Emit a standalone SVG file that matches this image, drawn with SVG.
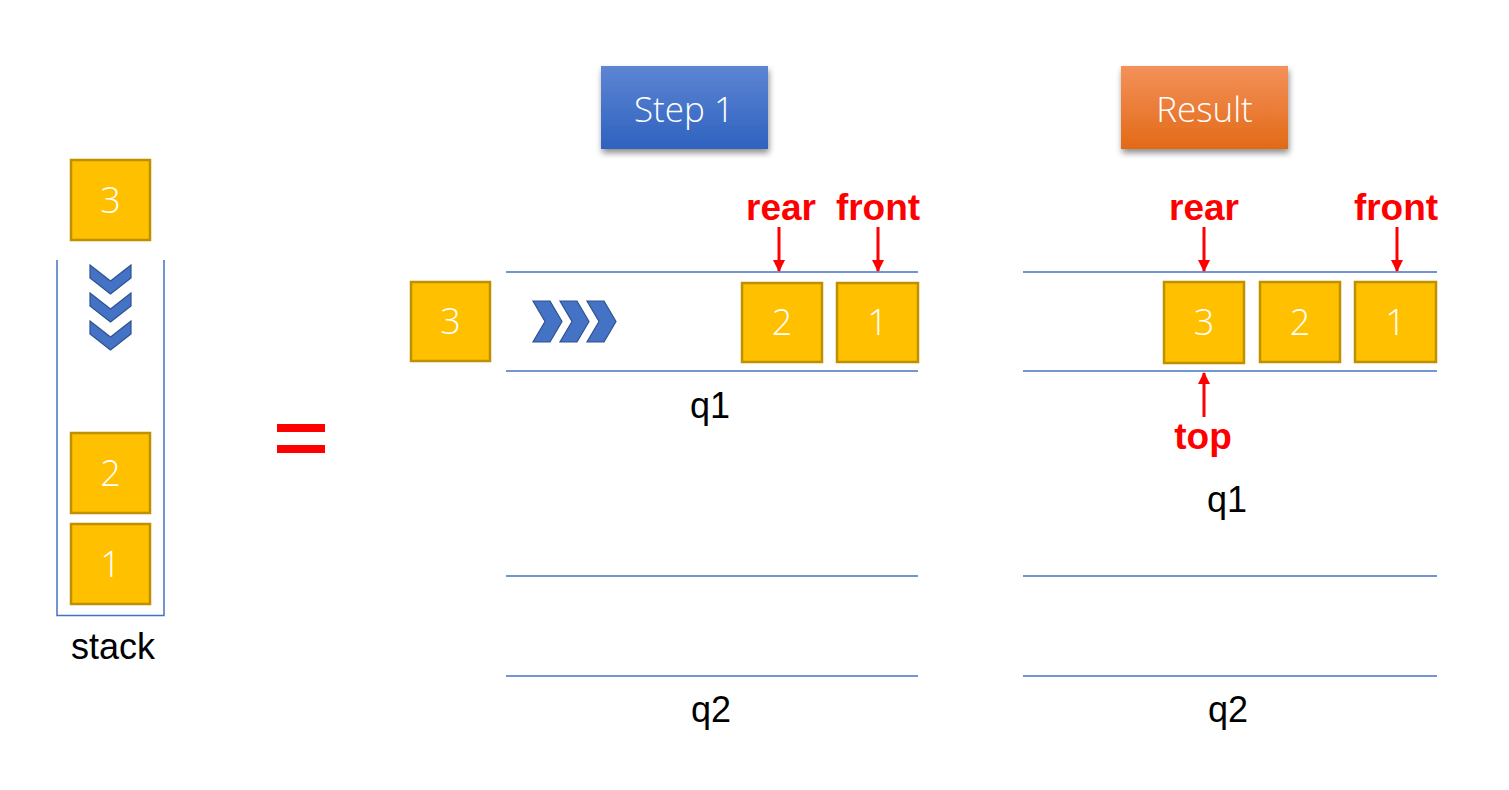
<svg xmlns="http://www.w3.org/2000/svg" width="1509" height="790" viewBox="0 0 1509 790">
<style>
.box{fill:#FFC000;stroke:#BF9000;stroke-width:2.5}
.num{font-family:"Open Sans","Noto Sans",sans-serif;font-weight:300;font-size:36px;fill:#FFFFFF;text-anchor:middle}
.btn{font-family:"Open Sans","Noto Sans",sans-serif;font-weight:300;font-size:35px;fill:#FFFFFF;text-anchor:middle}
.lbl{font-family:"Liberation Sans",Arial,sans-serif;font-size:36px;fill:#000000;text-anchor:middle}
.red{font-family:"Liberation Sans",Arial,sans-serif;font-weight:bold;font-size:37px;fill:#FF0000;text-anchor:middle}
.qline{stroke:#4472C4;stroke-width:1.5;fill:none}
.chev{fill:#4472C4;stroke:#2F528F;stroke-width:1.2}
.arr{stroke:#FF0000;stroke-width:3;fill:none}
</style>
<defs>
<linearGradient id="gBlue" x1="0" y1="0" x2="0" y2="1">
<stop offset="0" stop-color="#5D85D3"/>
<stop offset="1" stop-color="#2E62BF"/>
</linearGradient>
<linearGradient id="gOrange" x1="0" y1="0" x2="0" y2="1">
<stop offset="0" stop-color="#F4915A"/>
<stop offset="1" stop-color="#E26A17"/>
</linearGradient>
<filter id="sh" x="-20%" y="-20%" width="140%" height="160%">
<feGaussianBlur in="SourceAlpha" stdDeviation="3"/>
<feOffset dx="1" dy="4" result="b"/>
<feComponentTransfer><feFuncA type="linear" slope="0.45"/></feComponentTransfer>
<feMerge><feMergeNode/><feMergeNode in="SourceGraphic"/></feMerge>
</filter>
<marker id="ah" viewBox="0 0 12 12" refX="11" refY="6" markerWidth="12" markerHeight="12" markerUnits="userSpaceOnUse" orient="auto">
<path d="M0,0 L12,6 L0,12 Z" fill="#FF0000"/>
</marker>
</defs>
<rect width="1509" height="790" fill="#FFFFFF"/>

<g id="stack">
<path class="qline" d="M57,260 V615.5 H164 V260"/>
<g id="stack-box3"><rect class="box" x="71" y="160" width="79" height="80"/><text class="num" x="110.5" y="213">3</text></g>
<g id="stack-chevrons">
<path class="chev" d="M90,265 L110.5,281 L131,265 L131,278 L110.5,294 L90,278 Z"/>
<path class="chev" d="M90,293 L110.5,309 L131,293 L131,306 L110.5,322 L90,306 Z"/>
<path class="chev" d="M90,321 L110.5,337 L131,321 L131,334 L110.5,350 L90,334 Z"/>
</g>
<g id="stack-box2"><rect class="box" x="71" y="433" width="79" height="80"/><text class="num" x="110.5" y="486">2</text></g>
<g id="stack-box1"><rect class="box" x="71" y="524" width="79" height="80"/><text class="num" x="110.5" y="577">1</text></g>
<text class="lbl" x="113" y="659">stack</text>
</g>

<g id="equals">
<rect x="277" y="424" width="48" height="8" fill="#FF0000"/>
<rect x="277" y="445" width="48" height="8" fill="#FF0000"/>
</g>

<g id="step1-button">
<rect x="601" y="66" width="167" height="83" fill="url(#gBlue)" filter="url(#sh)"/>
<text class="btn" x="684" y="122">Step 1</text>
</g>

<g id="step1-q1">
<line class="qline" x1="506" y1="272" x2="918" y2="272"/>
<line class="qline" x1="506" y1="371" x2="918" y2="371"/>
<text class="lbl" x="710" y="418">q1</text>
</g>
<g id="step1-q2">
<line class="qline" x1="506" y1="576" x2="918" y2="576"/>
<line class="qline" x1="506" y1="676" x2="918" y2="676"/>
<text class="lbl" x="711" y="722">q2</text>
</g>
<g id="step1-box3"><rect class="box" x="411" y="282" width="79" height="79"/><text class="num" x="450.5" y="334">3</text></g>
<g id="step1-chevrons">
<path class="chev" d="M533,301 L550,301 L562,321.5 L550,342 L533,342 L545,321.5 Z"/>
<path class="chev" d="M560,301 L577,301 L589,321.5 L577,342 L560,342 L572,321.5 Z"/>
<path class="chev" d="M587,301 L604,301 L616,321.5 L604,342 L587,342 L599,321.5 Z"/>
</g>
<g id="step1-box2"><rect class="box" x="742" y="283" width="80" height="79"/><text class="num" x="782" y="335">2</text></g>
<g id="step1-box1"><rect class="box" x="837" y="283" width="81" height="79"/><text class="num" x="877.5" y="335">1</text></g>
<text class="red" x="781" y="220">rear</text>
<text class="red" x="878" y="220">front</text>

<g id="result-button">
<rect x="1121" y="66" width="167" height="83" fill="url(#gOrange)" filter="url(#sh)"/>
<text class="btn" x="1204.5" y="122">Result</text>
</g>

<g id="result-q1">
<line class="qline" x1="1023" y1="272" x2="1437" y2="272"/>
<line class="qline" x1="1023" y1="371" x2="1437" y2="371"/>
<text class="lbl" x="1227" y="512">q1</text>
</g>
<g id="result-q2">
<line class="qline" x1="1023" y1="576" x2="1437" y2="576"/>
<line class="qline" x1="1023" y1="676" x2="1437" y2="676"/>
<text class="lbl" x="1228" y="722">q2</text>
</g>
<g id="result-box3"><rect class="box" x="1164" y="282" width="80" height="81"/><text class="num" x="1204" y="335">3</text></g>
<g id="result-box2"><rect class="box" x="1260" y="282" width="80" height="80"/><text class="num" x="1300" y="335">2</text></g>
<g id="result-box1"><rect class="box" x="1355" y="282" width="81" height="80"/><text class="num" x="1395.5" y="335">1</text></g>
<text class="red" x="1204" y="220">rear</text>
<text class="red" x="1396" y="220">front</text>
<text class="red" x="1203" y="449">top</text>

<g id="connectors">
<line class="arr" x1="779" y1="227" x2="779" y2="271" marker-end="url(#ah)"/>
<line class="arr" x1="878" y1="227" x2="878" y2="271" marker-end="url(#ah)"/>
<line class="arr" x1="1204" y1="227" x2="1204" y2="271" marker-end="url(#ah)"/>
<line class="arr" x1="1397" y1="227" x2="1397" y2="271" marker-end="url(#ah)"/>
<line class="arr" x1="1204" y1="417" x2="1204" y2="373" marker-end="url(#ah)"/>
</g>
</svg>
